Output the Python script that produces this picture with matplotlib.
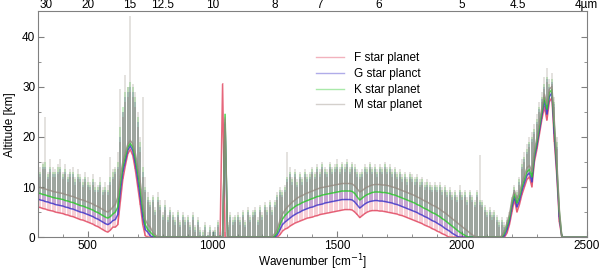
import numpy as np
import matplotlib
matplotlib.use("Agg")
import matplotlib.pyplot as plt
from matplotlib.ticker import MultipleLocator

plt.rcParams['font.family'] = ['Liberation Sans', 'DejaVu Sans']
plt.rcParams['font.size'] = 8.5

# wavenumber grid [cm^-1], one sample every 10 cm^-1 from 300 to 2500
wn = np.arange(300, 2501, 10)

# lower edge (continuum) of each spectrum [km]
f_lo = [6.0, 5.9, 5.7, 5.6, 5.4, 5.3, 5.2, 5.0, 4.9, 4.8,
        4.7, 4.5, 4.4, 4.2, 4.1, 3.9, 3.7, 3.5, 3.4, 3.2,
        3.0, 2.8, 2.6, 2.3, 2.1, 1.8, 1.5, 1.2, 1.0, 1.4,
        2.0, 2.0, 2.5, 7.0, 11.5, 14.2, 16.6, 17.5, 16.3, 13.5,
        10.0, 6.5, 2.5, 0.3, 0, 0, 0, 0, 0, 0,
        0, 0, 0, 0, 0, 0, 0, 0, 0, 0,
        0, 0, 0, 0, 0, 0, 0, 0, 0, 0,
        0, 0, 0, 0, 30.5, 0, 0, 0, 0, 0,
        0, 0, 0, 0, 0, 0, 0, 0, 0, 0,
        0, 0, 0, 0, 0, 0, 0, 0.5, 1.2, 1.6,
        1.8, 2.2, 2.5, 2.8, 3.0, 3.2, 3.4, 3.6, 3.8, 3.9,
        4.0, 4.2, 4.3, 4.5, 4.6, 4.7, 4.8, 4.9, 5.0, 5.1,
        5.2, 5.3, 5.4, 5.5, 5.5, 5.5, 5.4, 5.0, 4.5, 3.9,
        4.3, 4.7, 5.0, 5.2, 5.3, 5.3, 5.3, 5.2, 5.2, 5.1,
        5.0, 4.9, 4.8, 4.7, 4.6, 4.4, 4.3, 4.1, 3.9, 3.7,
        3.5, 3.3, 3.1, 2.9, 2.7, 2.4, 2.2, 2.0, 1.7, 1.5,
        1.2, 1.0, 0.7, 0.5, 0.2, 0, 0, 0, 0, 0,
        0, 0, 0, 0, 0, 0, 0, 0, 0, 0,
        0, 0, 0, 0, 0, 0, 0, 0, 0.8, 2.5,
        5.0, 7.5, 5.0, 6.5, 8.5, 10.0, 11.5, 12.0, 10.0, 15.0,
        17.5, 20.5, 23.5, 26.0, 23.3, 27.0, 27.8, 19.0, 12.0, 3.0,
        0, 0, 0, 0, 0, 0, 0, 0, 0, 0,
        0]
g_lo = [7.6, 7.4, 7.3, 7.1, 7.0, 6.8, 6.7, 6.5, 6.4, 6.3,
        6.2, 6.0, 5.9, 5.7, 5.6, 5.4, 5.2, 5.0, 4.9, 4.7,
        4.5, 4.3, 4.1, 3.8, 3.6, 3.3, 3.0, 2.7, 2.5, 2.8,
        3.3, 3.5, 4.5, 9.0, 13.0, 15.2, 17.3, 18.2, 17.2, 14.8,
        11.5, 8.0, 4.0, 1.5, 1.0, 0.3, 0, 0, 0, 0,
        0, 0, 0, 0, 0, 0, 0, 0, 0, 0,
        0, 0, 0, 0, 0, 0, 0, 0, 0, 0,
        0, 0, 0, 0, 0, 22.5, 0, 0, 0, 0,
        0, 0, 0, 0, 0, 0, 0, 0, 0, 0,
        0, 0, 0, 0, 0, 0, 0.5, 1.5, 2.5, 3.0,
        3.4, 3.8, 4.2, 4.5, 4.8, 5.0, 5.3, 5.5, 5.7, 5.9,
        6.0, 6.2, 6.4, 6.5, 6.6, 6.8, 6.9, 7.0, 7.1, 7.2,
        7.3, 7.4, 7.5, 7.5, 7.5, 7.5, 7.4, 7.0, 6.4, 5.8,
        6.2, 6.6, 6.9, 7.1, 7.2, 7.3, 7.3, 7.2, 7.2, 7.1,
        7.0, 6.9, 6.8, 6.6, 6.5, 6.3, 6.1, 5.9, 5.7, 5.5,
        5.3, 5.1, 4.9, 4.6, 4.4, 4.1, 3.9, 3.6, 3.3, 3.1,
        2.8, 2.5, 2.2, 1.8, 1.5, 1.2, 0.8, 0.5, 0.2, 0,
        0, 0, 0, 0, 0, 0, 0, 0, 0, 0,
        0, 0, 0, 0, 0, 0, 0, 0.3, 1.5, 3.2,
        6.0, 8.0, 6.0, 7.3, 9.3, 10.8, 12.3, 12.8, 11.0, 15.8,
        18.3, 21.3, 24.3, 27.2, 24.5, 28.0, 28.8, 20.5, 13.0, 4.0,
        0, 0, 0, 0, 0, 0, 0, 0, 0, 0,
        0]
k_lo = [8.8, 8.7, 8.5, 8.4, 8.2, 8.1, 7.9, 7.8, 7.7, 7.6,
        7.5, 7.3, 7.2, 7.0, 6.9, 6.7, 6.5, 6.3, 6.2, 6.0,
        5.8, 5.6, 5.4, 5.1, 4.9, 4.6, 4.3, 4.0, 3.8, 4.1,
        4.6, 5.0, 6.0, 10.5, 14.0, 16.0, 17.9, 18.7, 17.9, 15.8,
        12.8, 9.5, 5.5, 2.5, 1.5, 1.0, 0.5, 0, 0, 0,
        0, 0, 0, 0, 0, 0, 0, 0, 0, 0,
        0, 0, 0, 0, 0, 0, 0, 0, 0, 0,
        0, 0, 0, 0, 0, 24.5, 0, 0, 0, 0,
        0, 0, 0, 0, 0, 0, 0, 0, 0, 0,
        0, 0, 0, 0, 0, 0.3, 1.0, 2.5, 3.6, 4.3,
        4.8, 5.3, 5.7, 6.1, 6.4, 6.6, 6.9, 7.1, 7.3, 7.5,
        7.7, 7.9, 8.1, 8.2, 8.4, 8.5, 8.6, 8.7, 8.8, 8.9,
        9.0, 9.1, 9.2, 9.2, 9.2, 9.2, 9.1, 8.7, 8.0, 7.4,
        7.8, 8.2, 8.5, 8.7, 8.9, 9.0, 9.0, 9.0, 8.9, 8.9,
        8.8, 8.7, 8.5, 8.4, 8.2, 8.0, 7.8, 7.6, 7.4, 7.2,
        7.0, 6.8, 6.5, 6.3, 6.0, 5.7, 5.5, 5.2, 4.9, 4.7,
        4.4, 4.1, 3.7, 3.4, 3.0, 2.6, 2.2, 1.8, 1.4, 1.0,
        0.7, 0.4, 0.1, 0, 0, 0, 0, 0, 0, 0,
        0, 0, 0, 0, 0, 0, 0, 0.8, 2.2, 3.8,
        6.8, 8.6, 6.8, 8.0, 10.0, 11.5, 13.0, 13.5, 12.0, 16.5,
        19.0, 22.0, 25.0, 27.8, 25.5, 28.8, 29.4, 22.0, 14.0, 5.0,
        0, 0, 0, 0, 0, 0, 0, 0, 0, 0,
        0]
m_lo = [10.0, 9.9, 9.7, 9.6, 9.4, 9.3, 9.1, 9.0, 8.9, 8.8,
        8.7, 8.5, 8.4, 8.2, 8.1, 7.9, 7.7, 7.5, 7.4, 7.2,
        7.0, 6.8, 6.6, 6.3, 6.1, 5.8, 5.5, 5.2, 5.0, 5.4,
        6.0, 6.5, 8.0, 12.0, 15.0, 16.8, 18.5, 19.3, 18.6, 16.8,
        14.0, 11.0, 7.0, 3.5, 2.5, 2.0, 1.0, 0.5, 0, 0,
        0, 0, 0, 0, 0, 0, 0, 0, 0, 0,
        0, 0, 0, 0, 0, 0, 0, 0, 0, 0,
        0, 0, 0, 0, 0, 23.5, 0, 0, 0, 0,
        0, 0, 0, 0, 0, 0, 0, 0, 0, 0,
        0, 0, 0, 0, 0.2, 0.8, 1.8, 3.3, 4.6, 5.4,
        6.0, 6.5, 7.0, 7.4, 7.8, 8.1, 8.3, 8.6, 8.8, 9.0,
        9.2, 9.4, 9.6, 9.8, 9.9, 10.0, 10.1, 10.2, 10.3, 10.4,
        10.5, 10.6, 10.7, 10.7, 10.7, 10.7, 10.6, 10.2, 9.6, 9.0,
        9.3, 9.7, 10.0, 10.2, 10.4, 10.5, 10.5, 10.5, 10.4, 10.4,
        10.3, 10.2, 10.0, 9.9, 9.7, 9.5, 9.3, 9.1, 8.9, 8.7,
        8.5, 8.3, 8.0, 7.8, 7.5, 7.2, 7.0, 6.7, 6.4, 6.2,
        5.9, 5.6, 5.2, 4.9, 4.5, 4.1, 3.7, 3.3, 2.9, 2.5,
        2.1, 1.7, 1.3, 0.9, 0.5, 0.2, 0, 0, 0, 0,
        0, 0, 0, 0, 0, 0, 0.3, 1.3, 2.8, 4.5,
        7.5, 9.3, 7.6, 8.8, 10.8, 12.3, 13.8, 14.3, 13.0, 17.3,
        19.8, 22.8, 25.8, 28.5, 26.5, 29.5, 30.0, 23.0, 15.0, 5.5,
        0, 0, 0, 0, 0, 0, 0, 0, 0, 0,
        0]

# tops of the line spikes [km]
f_hi = [13, 12, 13.5, 13.5, 11.5, 13, 12, 12, 12.5, 13,
        11.5, 12.5, 11, 12, 12, 10.5, 11.5, 11, 10, 11,
        10, 9.5, 10.5, 9, 9, 10, 8.5, 9, 8.5, 10.5,
        11.5, 12.5, 13.5, 19, 24, 27, 28, 29, 28, 26,
        22, 17, 12, 9, 7, 6, 7, 4.5, 7, 5.5,
        3.5, 5.5, 3, 4.5, 3.5, 2.5, 4, 2, 3.5, 2.5,
        3, 1.5, 3.5, 1, 2.5, 0.5, 0.3, 1.5, 0.3, 1,
        0.5, 0.5, 2, 0.3, 30.7, 1, 1.5, 3.5, 2.5, 3,
        3.5, 2.5, 4, 2, 4.5, 3, 4, 4.5, 2.5, 5,
        3.5, 5.5, 4.5, 6, 4.5, 6, 7.5, 8.5, 8, 9,
        11, 12, 10.5, 12, 10, 11.5, 10.5, 12, 11, 11.5,
        12.5, 11.5, 13, 12, 13.5, 12.5, 12, 13.5, 12.5, 13,
        13.5, 12.5, 13.5, 13, 14, 12.5, 13.5, 13, 12, 11.5,
        12, 13, 12.5, 13.5, 12.5, 13, 12, 13, 12.5, 13.5,
        12.5, 13, 12, 12.5, 11.5, 12, 11, 11.5, 10.5, 11.5,
        11, 10.5, 11, 10, 10.5, 9.5, 10, 9.5, 9, 9.5,
        9, 9.5, 8.5, 9, 8, 8.5, 7.5, 8, 7, 8.5,
        7.5, 8, 6.5, 8, 7, 6, 8, 6.5, 6, 5,
        4, 4.5, 3.5, 4, 3, 2, 2.5, 1.5, 2.5, 3.5,
        6.5, 9, 8, 10.5, 13.5, 15, 16.5, 18, 19, 20.5,
        22.5, 25, 27, 29.5, 31, 29.5, 30.5, 26, 17.5, 5.5,
        0, 0, 0, 0, 0, 0, 0, 0, 0, 0,
        0]
g_hi = [13.5, 12.5, 14, 14, 12, 13.5, 12.5, 12.5, 13, 13.5,
        12, 13, 11.5, 12.5, 12.5, 11, 12, 11.5, 10.5, 11.5,
        10.5, 10, 11, 9.5, 9.5, 10.5, 9, 9.5, 9, 11,
        12, 13, 14, 20, 25, 28, 29, 30, 29, 27,
        23, 18, 13, 9.5, 7.5, 6.5, 7.5, 5, 7.5, 6,
        4, 6, 3.5, 5, 4, 3, 4.5, 2.5, 4, 3,
        3.5, 2, 4, 1.5, 3, 1, 0.5, 2, 0.5, 1.5,
        1, 1, 2.5, 0.5, 1.5, 23, 2, 4, 3, 3.5,
        4, 3, 4.5, 2.5, 5, 3.5, 4.5, 5, 3, 5.5,
        4, 6, 5, 6.5, 5, 6.5, 8, 9, 8.5, 9.5,
        11.5, 12.5, 11, 12.5, 10.5, 12, 11, 12.5, 11.5, 12,
        13, 12, 13.5, 12.5, 14, 13, 12.5, 14, 13, 13.5,
        14, 13, 14, 13.5, 14.5, 13, 14, 13.5, 12.5, 12,
        12.5, 13.5, 13, 14, 13, 13.5, 12.5, 13.5, 13, 14,
        13, 13.5, 12.5, 13, 12, 12.5, 11.5, 12, 11, 12,
        11.5, 11, 11.5, 10.5, 11, 10, 10.5, 10, 9.5, 10,
        9.5, 10, 9, 9.5, 8.5, 9, 8, 8.5, 7.5, 9,
        8, 8.5, 7, 8.5, 7.5, 6.5, 8.5, 7, 6.5, 5.5,
        4.5, 5, 4, 4.5, 3.5, 2.5, 3, 2, 3, 4,
        7, 9.5, 8.5, 11, 14, 15.5, 17, 18.5, 19.5, 21,
        23, 25.5, 27.5, 30, 31.5, 30, 31, 26.5, 18, 6,
        0, 0, 0, 0, 0, 0, 0, 0, 0, 0,
        0]
k_hi = [14, 13, 14.5, 15, 12.5, 14, 13, 13, 14, 14,
        12.5, 13.5, 12, 13, 13, 11.5, 12.5, 12, 11, 12,
        11, 10.5, 11.5, 10, 10, 11, 9.5, 10, 9.5, 12,
        13, 13.5, 15, 22, 26, 29, 30, 31, 30, 28,
        24, 19, 14, 10, 8, 7, 8, 5.5, 8, 6.5,
        4.5, 6.5, 4, 5.5, 4.5, 3.5, 5, 3, 4.5, 3.5,
        4, 2.5, 4.5, 2, 3.5, 1.5, 1, 2.5, 0.5, 2,
        1, 1.5, 3, 0.5, 2, 24.6, 2.5, 4.5, 3.5, 4,
        4.5, 3.5, 5, 3, 5.5, 4, 5, 5.5, 3.5, 6,
        4.5, 6.5, 5.5, 7, 5.5, 7, 8.5, 9.5, 9, 10,
        12, 13, 11.5, 13, 11, 12.5, 11.5, 13, 12, 12.5,
        13.5, 12.5, 14, 13, 14.5, 13.5, 13, 14.5, 13.5, 14,
        14.5, 13.5, 14.5, 14, 15, 13.5, 14.5, 14, 13, 12.5,
        13, 14, 13.5, 14.5, 13.5, 14, 13, 14, 13.5, 14.5,
        13.5, 14, 13, 13.5, 12.5, 13, 12, 12.5, 11.5, 12.5,
        12, 11.5, 12, 11, 11.5, 10.5, 11, 10.5, 10, 10.5,
        10, 10.5, 9.5, 10, 9, 9.5, 8.5, 9, 8, 9.5,
        8.5, 9, 7.5, 9, 8, 7, 9, 7.5, 7, 6,
        5, 5.5, 4.5, 5, 4, 3, 3.5, 2.5, 3.5, 4.5,
        7.5, 10, 9, 11.5, 14.5, 16, 17.5, 19, 20, 21.5,
        23.5, 26, 28, 30.5, 32, 30.5, 31.5, 27, 19, 6.5,
        0, 0, 0, 0, 0, 0, 0, 0, 0, 0,
        0]
m_hi = [23, 14, 15, 24, 13, 15.5, 14, 13.5, 14.5, 15.5,
        13, 14.5, 12.5, 13.5, 14, 12, 13.5, 12.5, 11.5, 13,
        12, 11, 12.5, 11, 10.5, 12, 10, 11, 10.5, 16,
        13.5, 14, 17, 29.5, 25, 32.3, 30, 44, 30.5, 29,
        25, 20, 28, 12, 9, 7.5, 8.5, 6, 9, 7.5,
        5, 7.5, 4.5, 6, 5, 4, 5.5, 3.5, 5, 4,
        4.5, 3, 5, 2.5, 4, 2, 1.5, 3, 1, 2.5,
        1.5, 2, 3.5, 1, 2.5, 24, 3, 5, 4, 4.5,
        5, 4, 5.5, 3.5, 6, 4.5, 5.5, 6, 4, 6.5,
        5, 7, 6, 7.5, 6, 7.5, 9, 10, 9.5, 10.5,
        17, 14, 12, 13.5, 11.5, 13, 12, 13.5, 12.5, 13,
        14, 13, 14.5, 13.5, 15, 14, 13.5, 15, 14, 14.5,
        15.5, 14, 15, 14.5, 15.5, 14, 15, 14.5, 13.5, 13,
        13.5, 14.5, 14, 15, 14, 14.5, 13.5, 14.5, 14, 15,
        14, 14.5, 13.5, 14, 13, 13.5, 12.5, 13, 12, 13,
        12.5, 12, 12.5, 11.5, 12, 11, 11.5, 11, 10.5, 11,
        10.5, 11, 10, 10.5, 9.5, 10, 9, 9.5, 8.5, 10.4,
        9, 9.5, 8, 9.5, 8.5, 7.5, 9.5, 16.3, 7.5, 6.5,
        5.5, 6, 5, 5.5, 4.5, 3.5, 4, 3, 4, 5,
        8, 10.5, 9.5, 12, 15.5, 17, 18.5, 20, 21, 22.5,
        24.5, 27, 29, 32, 33.7, 31.5, 32.8, 28, 20, 7,
        0, 0, 0, 0, 0, 0, 0, 0, 0, 0,
        0]

labels = ["F star planet", "G star planct", "K star planet", "M star planet"]
colors = ["#e0405a", "#3a30c8", "#28c828", "#958a80"]

# wavelength ticks for the top axis [um]
lam_ticks = [30, 20, 15, 12.5, 10, 8, 7, 6, 5, 4.5, 4]
lam_labels = ["30", "20", "15", "12.5", "10", "8", "7", "6", "5", "4.5", "4\u00b5m"]

fig = plt.figure(figsize=(6.0, 2.72), dpi=100)
ax = fig.add_axes([0.0633, 0.128, 0.9147, 0.83])

for lab, lo, hi, col in zip(labels, [f_lo, g_lo, k_lo, m_lo],
                            [f_hi, g_hi, k_hi, m_hi], colors):
    ax.vlines(wn, lo, hi, color=col, lw=1.1, alpha=0.32)
    ax.plot(wn, lo, color=col, lw=1.1, alpha=0.8, label=lab)

ax.set_xlim(300, 2500)
ax.set_ylim(0, 45)
ax.xaxis.set_major_locator(MultipleLocator(500))
ax.xaxis.set_minor_locator(MultipleLocator(100))
ax.yaxis.set_major_locator(MultipleLocator(10))
ax.yaxis.set_minor_locator(MultipleLocator(5))
ax.tick_params(which='both', direction='in', right=True, color='#808080')
ax.tick_params(which='major', length=4, pad=2)
ax.tick_params(which='minor', length=2.5)
for s in ax.spines.values():
    s.set_color('#808080')
    s.set_linewidth(0.8)

ax.set_xlabel("Wavenumber [cm$^{-1}$]", labelpad=0)
ax.set_ylabel("Altitude [km]", labelpad=4)

ax2 = ax.twiny()
ax2.set_xlim(ax.get_xlim())
ax2.set_xticks([1e4 / l for l in lam_ticks])
ax2.set_xticklabels(lam_labels)
ax2.tick_params(axis='x', length=0, pad=0.5)
for s in ax2.spines.values():
    s.set_visible(False)

leg = ax.legend(loc='upper left', bbox_to_anchor=(0.517, 0.83),
                bbox_transform=fig.transFigure, frameon=False,
                borderpad=0, labelspacing=0.32, handlelength=2.4,
                handletextpad=0.8)
for h in leg.get_lines():
    h.set_alpha(0.4)
    h.set_linewidth(1.0)

fig.savefig("out.png", dpi=100)
